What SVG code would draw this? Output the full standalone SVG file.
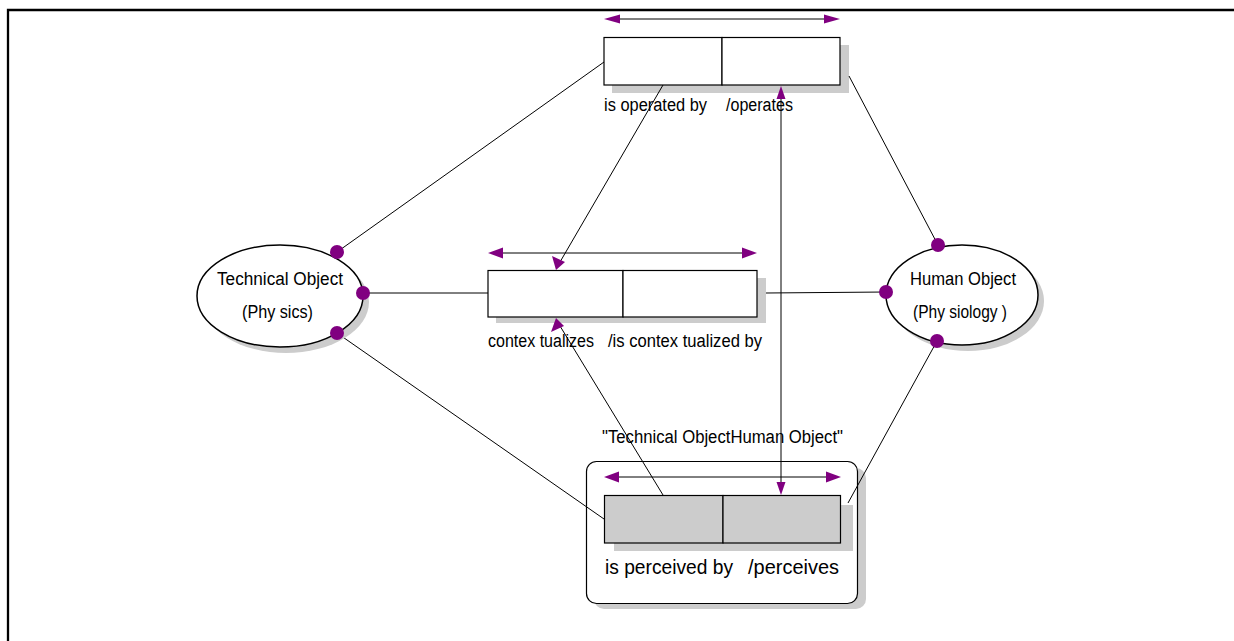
<svg xmlns="http://www.w3.org/2000/svg" width="1234" height="641" viewBox="0 0 1234 641">
<defs>
<style>
.t{font-family:"Liberation Sans",Arial,sans-serif;font-size:18px;fill:#000}
.tb{font-family:"Liberation Sans",Arial,sans-serif;font-size:20.5px;fill:#000}
.sh{fill:#cccccc;stroke:none}
.box{fill:#ffffff;stroke:#000;stroke-width:1.2}
.gbox{fill:#cccccc;stroke:#000;stroke-width:1.2}
.ln{stroke:#000;stroke-width:1;fill:none}
.ah{fill:#800080;stroke:none}
.dot{fill:#800080;stroke:none}
</style>
</defs>
<rect x="0" y="0" width="1234" height="641" fill="#ffffff"/>
<path d="M8 641 V10 H1234" fill="none" stroke="#000" stroke-width="2.3"/>

<g id="rel-operates">
<line class="ln" x1="618" y1="19" x2="826" y2="19"/>
<polygon class="ah" points="604,19 620,14.5 620,23.5"/>
<polygon class="ah" points="840,19 824,14.5 824,23.5"/>
<rect class="sh" x="612" y="45" width="237" height="48"/>
<rect class="box" x="604" y="37.5" width="118" height="47.5"/>
<rect class="box" x="722" y="37.5" width="118" height="47.5"/>
<text class="t" x="604" y="111" textLength="103" lengthAdjust="spacingAndGlyphs">is operated by</text>
<text class="t" x="726" y="111" textLength="67" lengthAdjust="spacingAndGlyphs">/operates</text>
</g>

<g id="rel-contextualizes">
<line class="ln" x1="502" y1="253" x2="743" y2="253"/>
<polygon class="ah" points="488,253 503,247.5 503,258.5"/>
<polygon class="ah" points="757,253 742,247.5 742,258.5"/>
<rect class="sh" x="496" y="278" width="270" height="45"/>
<rect class="box" x="488" y="270.5" width="135" height="46.5"/>
<rect class="box" x="623" y="270.5" width="134" height="46.5"/>
<text class="t" x="488" y="347" textLength="106" lengthAdjust="spacingAndGlyphs">contex tualizes</text>
<text class="t" x="608" y="347" textLength="154" lengthAdjust="spacingAndGlyphs">/is contex tualized by</text>
</g>

<g id="rel-perceives">
<rect class="sh" x="594" y="468" width="272" height="141" rx="10"/>
<rect x="586.5" y="461.5" width="271" height="142" rx="10" fill="#ffffff" stroke="#000" stroke-width="1.2"/>
<text class="t" x="602" y="443" textLength="241" lengthAdjust="spacingAndGlyphs">"Technical ObjectHuman Object"</text>
<line class="ln" x1="618" y1="477" x2="827" y2="477"/>
<polygon class="ah" points="604,477 619,471.5 619,482.5"/>
<polygon class="ah" points="841,477 826,471.5 826,482.5"/>
<rect class="sh" x="614" y="505" width="239" height="46"/>
<rect class="gbox" x="604.5" y="495.5" width="118.5" height="47.5"/>
<rect class="gbox" x="723" y="495.5" width="117.5" height="47.5"/>
<text class="tb" x="605" y="574" textLength="128" lengthAdjust="spacingAndGlyphs">is perceived by</text>
<text class="tb" x="748" y="574" textLength="91" lengthAdjust="spacingAndGlyphs">/perceives</text>
</g>

<g id="connectors">
<line class="ln" x1="337" y1="252" x2="604" y2="62"/>
<line class="ln" x1="363" y1="293" x2="488" y2="293"/>
<line class="ln" x1="337" y1="333" x2="604" y2="519"/>
<line class="ln" x1="849" y1="76" x2="938" y2="245"/>
<line class="ln" x1="766" y1="293" x2="886" y2="292"/>
<line class="ln" x1="848" y1="503" x2="937" y2="341"/>
<line class="ln" x1="663" y1="85" x2="560" y2="262"/>
<polygon class="ah" points="556,270 552,256 565,262"/>
<line class="ln" x1="663" y1="495" x2="560" y2="326"/>
<polygon class="ah" points="556,318 551,332 564,326"/>
<line class="ln" x1="781" y1="97" x2="781" y2="483"/>
<polygon class="ah" points="781,86 776.5,99 785.5,99"/>
<polygon class="ah" points="781,495 776.5,482 785.5,482"/>
</g>

<g id="tech-object">
<ellipse cx="286" cy="302" rx="83" ry="51" class="sh"/>
<ellipse cx="280" cy="296" rx="83" ry="51" fill="#ffffff" stroke="#000" stroke-width="1.5"/>
<text class="t" x="280" y="285" text-anchor="middle" textLength="126" lengthAdjust="spacingAndGlyphs">Technical Object</text>
<text class="t" x="277.5" y="318" text-anchor="middle" textLength="71" lengthAdjust="spacingAndGlyphs">(Phy sics)</text>
<circle class="dot" cx="337" cy="252" r="7"/>
<circle class="dot" cx="363" cy="293" r="7"/>
<circle class="dot" cx="337" cy="333" r="7"/>
</g>

<g id="human-object">
<ellipse cx="968" cy="301" rx="76" ry="50" class="sh"/>
<ellipse cx="962" cy="295" rx="76" ry="50" fill="#ffffff" stroke="#000" stroke-width="1.5"/>
<text class="t" x="963" y="285" text-anchor="middle" textLength="106" lengthAdjust="spacingAndGlyphs">Human Object</text>
<text class="t" x="960" y="318" text-anchor="middle" textLength="94" lengthAdjust="spacingAndGlyphs">(Phy siology )</text>
<circle class="dot" cx="938" cy="245" r="7"/>
<circle class="dot" cx="886" cy="292" r="7"/>
<circle class="dot" cx="937" cy="341" r="7"/>
</g>
</svg>
